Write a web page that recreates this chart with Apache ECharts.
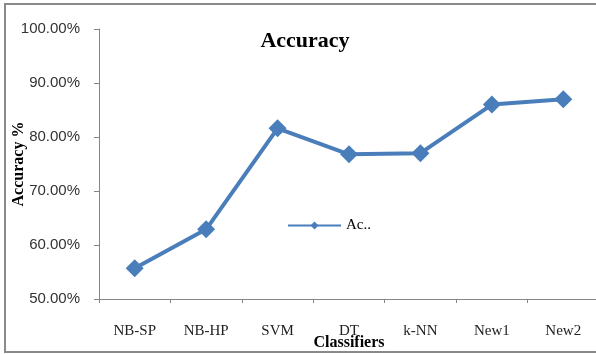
<!DOCTYPE html>
<html>
<head>
<meta charset="utf-8">
<script src="https://cdn.jsdelivr.net/npm/echarts@6/dist/echarts.min.js"></script>
<style>
  html, body { margin: 0; padding: 0; background: #fff; }
  #chart { width: 596px; height: 354px; }
</style>
</head>
<body>
<div id="chart"></div>
<script>
// Classifier names along the x axis
const classifiers = ['NB-SP', 'NB-HP', 'SVM', 'DT', 'k-NN', 'New1', 'New2'];
// Accuracy of each classifier, in percent
const accuracy = [55.7, 62.9, 81.6, 76.8, 77.0, 86.0, 87.0];
// Value axis range and step, in percent
const yMin = 50;
const yMax = 100;
const yStep = 10;

const serif = '"Liberation Serif", "Times New Roman", serif';
const sans = '"Liberation Sans", Arial, sans-serif';
const lineColor = '#4a7ebb';

const chart = echarts.init(document.getElementById('chart'), null, { renderer: 'canvas' });

chart.setOption({
  backgroundColor: '#ffffff',
  animation: false,
  title: {
    text: 'Accuracy',
    left: 300,
    top: 25,
    textAlign: 'center',
    textStyle: { fontFamily: serif, fontSize: 22, fontWeight: 'bold', color: '#000' }
  },
  legend: {
    left: 282,
    top: 213,
    itemWidth: 53,
    itemHeight: 10,
    itemGap: 4,
    data: ['Ac..'],
    textStyle: { fontFamily: serif, fontSize: 15, color: '#000' }
  },
  graphic: [{
    type: 'rect',
    shape: { x: 5, y: 4, width: 600, height: 348 },
    style: { fill: 'none', stroke: '#8a8a8a', lineWidth: 2 },
    silent: true
  }],
  grid: { left: 99, top: 29, width: 500, height: 270, outerBoundsMode: 'none', containLabel: false },
  xAxis: {
    type: 'category',
    data: classifiers,
    boundaryGap: true,
    name: 'Classifiers',
    nameLocation: 'middle',
    nameGap: 36,
    nameMoveOverlap: false,
    nameTextStyle: { fontFamily: serif, fontSize: 16, fontWeight: 'bold', color: '#000' },
    axisLine: { lineStyle: { color: '#868686', width: 1 } },
    axisTick: { show: true, length: 4, alignWithLabel: false, lineStyle: { color: '#868686' } },
    axisLabel: { fontFamily: serif, fontSize: 15, color: '#222', margin: 25 },
    splitLine: { show: false }
  },
  yAxis: {
    type: 'value',
    min: yMin,
    max: yMax,
    interval: yStep,
    name: 'Accuracy %',
    nameLocation: 'middle',
    nameGap: 72,
    nameMoveOverlap: false,
    nameTextStyle: { fontFamily: serif, fontSize: 16, fontWeight: 'bold', color: '#000' },
    axisLine: { show: true, lineStyle: { color: '#868686', width: 1 } },
    axisTick: { show: true, length: 5, lineStyle: { color: '#868686' } },
    axisLabel: {
      fontFamily: sans, fontSize: 15, color: '#333', margin: 19,
      formatter: v => v.toFixed(2) + '%'
    },
    splitLine: { show: false }
  },
  series: [{
    name: 'Ac..',
    type: 'line',
    data: accuracy,
    symbol: 'diamond',
    symbolSize: 18,
    lineStyle: { color: lineColor, width: 4 },
    itemStyle: { color: lineColor }
  }]
});
</script>
</body>
</html>
